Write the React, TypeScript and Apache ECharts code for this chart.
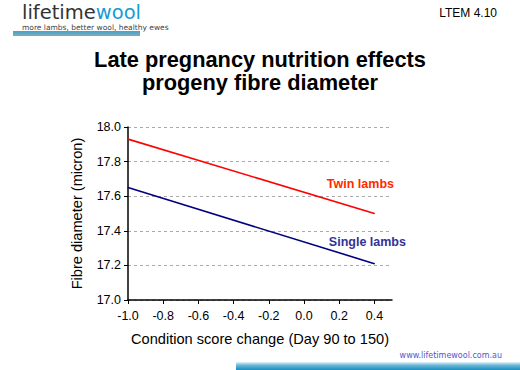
import React, { useEffect, useRef } from "react";
import * as echarts from "echarts";

const conditionChange = [-1.0, 0.4];
const twinLambs = [17.93, 17.5];
const singleLambs = [17.65, 17.21];
const xTicks = [-1.0, -0.8, -0.6, -0.4, -0.2, 0.0, 0.2, 0.4];
const seriesNames = ["Twin lambs", "Single lambs"];
const titleLines = ["Late pregnancy nutrition effects", "progeny fibre diameter"];

export default function App() {
  const ref = useRef<HTMLDivElement>(null);
  useEffect(() => {
    document.body.style.margin = "0";
    const chart = echarts.init(ref.current!, null, { renderer: "svg" });
    const font = "Liberation Sans, Arial, sans-serif";
    const mk = (ys: number[], name: string, color: string, labelColor: string, off: number[]) => ({
      type: "line",
      name,
      symbol: "circle",
      symbolSize: 1,
      showSymbol: true,
      itemStyle: { color },
      lineStyle: { color, width: 1.6 },
      data: conditionChange.map((x, i) =>
        i === conditionChange.length - 1
          ? {
              value: [x, ys[i]],
              label: {
                show: true,
                position: "top",
                offset: off,
                formatter: name,
                color: labelColor,
                fontWeight: "bold",
                fontSize: 12.5,
                fontFamily: font,
              },
            }
          : { value: [x, ys[i]] }
      ),
    });
    chart.setOption({
      animation: false,
      backgroundColor: "#fff",
      title: {
        text: titleLines.join("\n"),
        left: "center",
        top: 43,
        textStyle: { fontFamily: font, fontSize: 21.8, fontWeight: "bold", color: "#000", lineHeight: 23 },
      },
      grid: { left: 128, right: 128, top: 127, bottom: 70 },
      xAxis: {
        type: "value",
        min: -1.0,
        max: 0.5,
        interval: 0.2,
        name: "Condition score change (Day 90 to 150)",
        nameLocation: "middle",
        nameGap: 31,
        nameTextStyle: { fontFamily: font, fontSize: 14.6, color: "#000", verticalAlign: "top" },
        axisLine: { lineStyle: { color: "#000", width: 1.5 } },
        axisTick: { show: true, length: 4, customValues: xTicks, lineStyle: { color: "#000" } },
        axisLabel: {
          customValues: xTicks,
          formatter: (v: number) => v.toFixed(1),
          fontFamily: font,
          fontSize: 12.5,
          color: "#000",
          margin: 9,
        },
        splitLine: { show: false },
      },
      yAxis: {
        type: "value",
        min: 17.0,
        max: 18.0,
        interval: 0.2,
        name: "Fibre diameter (micron)",
        nameLocation: "middle",
        nameGap: 44,
        nameTextStyle: { fontFamily: font, fontSize: 14.6, color: "#000" },
        axisLine: { show: true, onZero: false, lineStyle: { color: "#000", width: 1.5 } },
        axisTick: { show: true, length: 4, lineStyle: { color: "#000" } },
        axisLabel: {
          formatter: (v: number) => v.toFixed(1),
          fontFamily: font,
          fontSize: 12.5,
          color: "#000",
          margin: 7,
        },
        splitLine: { show: true, lineStyle: { color: "#aaa", type: [3, 3], width: 1 } },
      },
      series: [
        mk(twinLambs, seriesNames[0], "#ff0000", "#ff2a00", [-14, -18]),
        mk(singleLambs, seriesNames[1], "#000080", "#333399", [-7, -10]),
      ],
      graphic: [
        {
          type: "text",
          left: 22,
          top: 2,
          style: {
            text: "{a|lifetime}{b|wool}",
            rich: {
              a: { fontFamily: "DejaVu Sans", fontSize: 19.5, fill: "#333" },
              b: { fontFamily: "DejaVu Sans", fontSize: 19.5, fill: "#1a9ad6" },
            },
          },
        },
        {
          type: "text",
          left: 22,
          top: 23,
          style: { text: "more lambs, better wool, healthy ewes", fontFamily: "DejaVu Sans", fontSize: 7.5, fill: "#444" },
        },
        {
          type: "rect",
          shape: { x: 13, y: 31, width: 127, height: 5 },
          style: {
            fill: new echarts.graphic.LinearGradient(0, 0, 0, 1, [
              { offset: 0, color: "#3aa6d4" },
              { offset: 1, color: "#8aa8b0" },
            ]),
          },
        },
        {
          type: "text",
          right: 23,
          top: 7,
          style: { text: "LTEM 4.10", fontFamily: font, fontSize: 12, fill: "#000" },
        },
        {
          type: "text",
          right: 18,
          top: 351,
          style: { text: "www.lifetimewool.com.au", fontFamily: "DejaVu Sans", fontSize: 8, fill: "#5555cc" },
        },
        {
          type: "rect",
          shape: { x: 236, y: 362, width: 284, height: 8 },
          style: {
            fill: new echarts.graphic.LinearGradient(0, 0, 0, 1, [
              { offset: 0, color: "#e8f4f8" },
              { offset: 0.4, color: "#6ab8d8" },
              { offset: 1, color: "#1a8cc0" },
            ]),
          },
        },
      ],
    });
    return () => chart.dispose();
  }, []);
  return <div ref={ref} style={{ width: 520, height: 370 }} />;
}
